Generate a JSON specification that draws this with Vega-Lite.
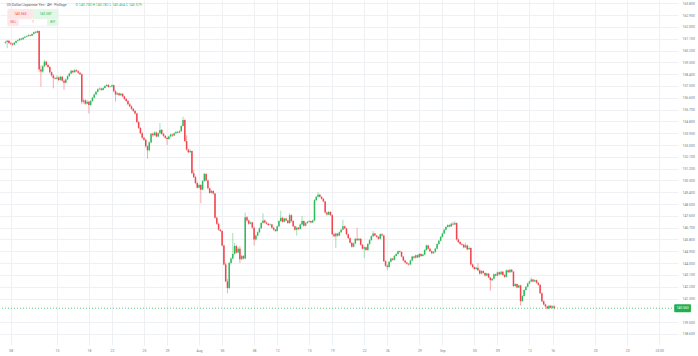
{
"$schema": "https://vega.github.io/schema/vega-lite/v6.json",
"width": 678, "height": 345, "autosize": "none",
"padding": {"left": 0, "top": 0, "right": 20, "bottom": 11},
"background": "white",
"config": {"view": {"stroke": null}, "font": "Roboto"},
"data": {"values": [
{"i":0,"o":160.80,"h":160.95,"l":160.70,"c":160.85},
{"i":1,"o":160.85,"h":161.00,"l":160.38,"c":160.95},
{"i":2,"o":160.95,"h":161.00,"l":160.70,"c":160.78},
{"i":3,"o":160.78,"h":160.85,"l":160.62,"c":160.72},
{"i":4,"o":160.72,"h":160.78,"l":160.55,"c":160.65},
{"i":5,"o":160.65,"h":160.85,"l":160.60,"c":160.80},
{"i":6,"o":160.80,"h":160.98,"l":160.76,"c":160.92},
{"i":7,"o":160.92,"h":161.05,"l":160.88,"c":160.98},
{"i":8,"o":160.98,"h":161.15,"l":160.94,"c":161.10},
{"i":9,"o":161.10,"h":161.16,"l":160.98,"c":161.05},
{"i":10,"o":161.05,"h":161.22,"l":161.00,"c":161.18},
{"i":11,"o":161.18,"h":161.30,"l":161.12,"c":161.25},
{"i":12,"o":161.25,"h":161.36,"l":161.20,"c":161.30},
{"i":13,"o":161.30,"h":161.44,"l":161.26,"c":161.38},
{"i":14,"o":161.38,"h":161.42,"l":161.27,"c":161.33},
{"i":15,"o":161.33,"h":161.50,"l":161.30,"c":161.45},
{"i":16,"o":161.45,"h":161.66,"l":161.42,"c":161.60},
{"i":17,"o":161.60,"h":161.70,"l":161.50,"c":161.55},
{"i":18,"o":161.55,"h":161.76,"l":161.52,"c":161.68},
{"i":19,"o":161.68,"h":161.72,"l":158.55,"c":158.75},
{"i":20,"o":158.75,"h":159.05,"l":157.44,"c":158.60},
{"i":21,"o":158.60,"h":159.10,"l":158.50,"c":159.00},
{"i":22,"o":159.00,"h":159.48,"l":158.92,"c":159.35},
{"i":23,"o":159.35,"h":159.40,"l":159.00,"c":159.10},
{"i":24,"o":159.10,"h":159.20,"l":158.85,"c":158.95},
{"i":25,"o":158.95,"h":159.00,"l":158.45,"c":158.55},
{"i":26,"o":158.55,"h":158.62,"l":158.20,"c":158.30},
{"i":27,"o":158.30,"h":158.40,"l":157.32,"c":158.10},
{"i":28,"o":158.10,"h":158.18,"l":158.00,"c":158.05},
{"i":29,"o":158.05,"h":158.30,"l":157.98,"c":158.15},
{"i":30,"o":158.15,"h":158.22,"l":157.85,"c":157.95},
{"i":31,"o":157.95,"h":158.28,"l":157.90,"c":158.20},
{"i":32,"o":158.20,"h":158.25,"l":157.82,"c":157.90},
{"i":33,"o":157.90,"h":157.98,"l":157.20,"c":157.75},
{"i":34,"o":157.75,"h":158.08,"l":157.70,"c":158.00},
{"i":35,"o":158.00,"h":158.32,"l":157.95,"c":158.25},
{"i":36,"o":158.25,"h":158.52,"l":158.20,"c":158.45},
{"i":37,"o":158.45,"h":158.74,"l":158.40,"c":158.65},
{"i":38,"o":158.65,"h":158.70,"l":158.45,"c":158.55},
{"i":39,"o":158.55,"h":158.80,"l":158.50,"c":158.70},
{"i":40,"o":158.70,"h":158.76,"l":158.55,"c":158.62},
{"i":41,"o":158.62,"h":158.68,"l":158.42,"c":158.50},
{"i":42,"o":158.50,"h":158.58,"l":158.32,"c":158.40},
{"i":43,"o":158.40,"h":158.45,"l":156.10,"c":156.30},
{"i":44,"o":156.30,"h":156.55,"l":156.15,"c":156.40},
{"i":45,"o":156.40,"h":156.48,"l":156.05,"c":156.15},
{"i":46,"o":156.15,"h":156.42,"l":156.10,"c":156.30},
{"i":47,"o":156.30,"h":156.36,"l":155.40,"c":156.05},
{"i":48,"o":156.05,"h":156.42,"l":155.98,"c":156.35},
{"i":49,"o":156.35,"h":156.68,"l":156.30,"c":156.60},
{"i":50,"o":156.60,"h":156.92,"l":156.55,"c":156.85},
{"i":51,"o":156.85,"h":157.12,"l":156.80,"c":157.05},
{"i":52,"o":157.05,"h":157.32,"l":157.00,"c":157.25},
{"i":53,"o":157.25,"h":157.40,"l":157.18,"c":157.30},
{"i":54,"o":157.30,"h":157.36,"l":157.12,"c":157.20},
{"i":55,"o":157.20,"h":157.42,"l":157.15,"c":157.35},
{"i":56,"o":157.35,"h":157.56,"l":157.30,"c":157.50},
{"i":57,"o":157.50,"h":157.66,"l":157.45,"c":157.58},
{"i":58,"o":157.58,"h":157.62,"l":157.36,"c":157.42},
{"i":59,"o":157.42,"h":157.50,"l":157.38,"c":157.45},
{"i":60,"o":157.45,"h":157.62,"l":157.40,"c":157.55},
{"i":61,"o":157.55,"h":157.60,"l":157.02,"c":157.10},
{"i":62,"o":157.10,"h":157.18,"l":156.30,"c":156.85},
{"i":63,"o":156.85,"h":157.02,"l":156.80,"c":156.95},
{"i":64,"o":156.95,"h":157.00,"l":156.72,"c":156.80},
{"i":65,"o":156.80,"h":156.98,"l":156.75,"c":156.90},
{"i":66,"o":156.90,"h":156.95,"l":156.64,"c":156.70},
{"i":67,"o":156.70,"h":156.76,"l":156.44,"c":156.50},
{"i":68,"o":156.50,"h":156.58,"l":156.28,"c":156.35},
{"i":69,"o":156.35,"h":156.42,"l":156.02,"c":156.10},
{"i":70,"o":156.10,"h":156.20,"l":155.88,"c":155.95},
{"i":71,"o":155.95,"h":156.02,"l":155.68,"c":155.75},
{"i":72,"o":155.75,"h":155.82,"l":155.52,"c":155.60},
{"i":73,"o":155.60,"h":155.68,"l":155.32,"c":155.40},
{"i":74,"o":155.40,"h":155.46,"l":154.66,"c":154.75},
{"i":75,"o":154.75,"h":154.85,"l":154.22,"c":154.30},
{"i":76,"o":154.30,"h":154.38,"l":153.82,"c":153.90},
{"i":77,"o":153.90,"h":153.98,"l":153.46,"c":153.55},
{"i":78,"o":153.55,"h":153.62,"l":153.30,"c":153.40},
{"i":79,"o":153.40,"h":153.48,"l":152.80,"c":152.90},
{"i":80,"o":152.90,"h":152.98,"l":151.95,"c":152.60},
{"i":81,"o":152.60,"h":153.28,"l":152.50,"c":153.20},
{"i":82,"o":153.20,"h":153.92,"l":153.12,"c":153.85},
{"i":83,"o":153.85,"h":153.95,"l":153.62,"c":153.75},
{"i":84,"o":153.75,"h":154.05,"l":153.70,"c":153.95},
{"i":85,"o":153.95,"h":154.02,"l":153.58,"c":153.65},
{"i":86,"o":153.65,"h":153.96,"l":153.60,"c":153.90},
{"i":87,"o":153.90,"h":154.67,"l":153.85,"c":154.15},
{"i":88,"o":154.15,"h":154.22,"l":153.78,"c":153.85},
{"i":89,"o":153.85,"h":153.92,"l":153.62,"c":153.70},
{"i":90,"o":153.70,"h":153.75,"l":153.48,"c":153.55},
{"i":91,"o":153.55,"h":153.62,"l":153.00,"c":153.45},
{"i":92,"o":153.45,"h":153.72,"l":153.40,"c":153.65},
{"i":93,"o":153.65,"h":153.88,"l":153.58,"c":153.80},
{"i":94,"o":153.80,"h":153.86,"l":153.62,"c":153.72},
{"i":95,"o":153.72,"h":153.96,"l":153.68,"c":153.90},
{"i":96,"o":153.90,"h":154.08,"l":153.85,"c":154.00},
{"i":97,"o":154.00,"h":154.06,"l":153.88,"c":153.95},
{"i":98,"o":153.95,"h":154.12,"l":153.90,"c":154.05},
{"i":99,"o":154.05,"h":154.52,"l":154.00,"c":154.45},
{"i":100,"o":154.45,"h":155.16,"l":154.40,"c":154.90},
{"i":101,"o":154.90,"h":154.95,"l":153.22,"c":153.30},
{"i":102,"o":153.30,"h":153.75,"l":152.58,"c":152.65},
{"i":103,"o":152.65,"h":152.72,"l":152.38,"c":152.45},
{"i":104,"o":152.45,"h":152.70,"l":152.40,"c":152.55},
{"i":105,"o":152.55,"h":152.60,"l":150.78,"c":150.85},
{"i":106,"o":150.85,"h":151.10,"l":150.48,"c":150.55},
{"i":107,"o":150.55,"h":150.65,"l":150.02,"c":150.10},
{"i":108,"o":150.10,"h":150.22,"l":149.68,"c":149.75},
{"i":109,"o":149.75,"h":150.05,"l":149.70,"c":149.95},
{"i":110,"o":149.95,"h":150.02,"l":148.56,"c":149.60},
{"i":111,"o":149.60,"h":150.32,"l":149.55,"c":150.25},
{"i":112,"o":150.25,"h":150.88,"l":150.20,"c":150.80},
{"i":113,"o":150.80,"h":150.86,"l":150.22,"c":150.30},
{"i":114,"o":150.30,"h":150.36,"l":149.62,"c":149.70},
{"i":115,"o":149.70,"h":149.76,"l":149.28,"c":149.35},
{"i":116,"o":149.35,"h":149.58,"l":149.30,"c":149.50},
{"i":117,"o":149.50,"h":149.55,"l":149.22,"c":149.30},
{"i":118,"o":149.30,"h":149.34,"l":147.38,"c":147.45},
{"i":119,"o":147.45,"h":147.55,"l":146.92,"c":147.00},
{"i":120,"o":147.00,"h":147.08,"l":146.48,"c":146.55},
{"i":121,"o":146.55,"h":146.60,"l":146.38,"c":146.45},
{"i":122,"o":146.45,"h":146.50,"l":145.28,"c":145.35},
{"i":123,"o":145.35,"h":145.42,"l":143.82,"c":143.90},
{"i":124,"o":143.90,"h":144.05,"l":142.55,"c":142.60},
{"i":125,"o":142.60,"h":142.80,"l":141.70,"c":142.10},
{"i":126,"o":142.10,"h":144.10,"l":142.00,"c":144.00},
{"i":127,"o":144.00,"h":144.45,"l":143.90,"c":144.35},
{"i":128,"o":144.35,"h":146.30,"l":144.28,"c":144.70},
{"i":129,"o":144.70,"h":145.55,"l":144.65,"c":145.30},
{"i":130,"o":145.30,"h":145.40,"l":144.72,"c":144.80},
{"i":131,"o":144.80,"h":145.22,"l":144.75,"c":145.10},
{"i":132,"o":145.10,"h":145.30,"l":144.00,"c":144.30},
{"i":133,"o":144.30,"h":144.62,"l":144.22,"c":144.55},
{"i":134,"o":144.55,"h":144.60,"l":144.28,"c":144.35},
{"i":135,"o":144.35,"h":147.85,"l":144.30,"c":147.50},
{"i":136,"o":147.50,"h":147.58,"l":147.15,"c":147.25},
{"i":137,"o":147.25,"h":147.32,"l":146.92,"c":147.00},
{"i":138,"o":147.00,"h":147.18,"l":146.95,"c":147.10},
{"i":139,"o":147.10,"h":147.15,"l":146.62,"c":146.70},
{"i":140,"o":146.70,"h":146.78,"l":145.35,"c":145.80},
{"i":141,"o":145.80,"h":146.18,"l":145.72,"c":146.10},
{"i":142,"o":146.10,"h":146.42,"l":146.05,"c":146.35},
{"i":143,"o":146.35,"h":146.72,"l":146.30,"c":146.65},
{"i":144,"o":146.65,"h":147.12,"l":146.60,"c":147.05},
{"i":145,"o":147.05,"h":147.80,"l":147.00,"c":147.25},
{"i":146,"o":147.25,"h":147.32,"l":147.02,"c":147.10},
{"i":147,"o":147.10,"h":147.16,"l":146.92,"c":147.00},
{"i":148,"o":147.00,"h":147.05,"l":146.84,"c":146.90},
{"i":149,"o":146.90,"h":147.02,"l":146.85,"c":146.95},
{"i":150,"o":146.95,"h":147.00,"l":146.62,"c":146.70},
{"i":151,"o":146.70,"h":146.76,"l":146.48,"c":146.55},
{"i":152,"o":146.55,"h":146.60,"l":146.38,"c":146.45},
{"i":153,"o":146.45,"h":146.86,"l":146.40,"c":146.80},
{"i":154,"o":146.80,"h":147.26,"l":146.75,"c":147.20},
{"i":155,"o":147.20,"h":148.00,"l":147.15,"c":147.45},
{"i":156,"o":147.45,"h":147.52,"l":147.08,"c":147.15},
{"i":157,"o":147.15,"h":147.46,"l":147.10,"c":147.40},
{"i":158,"o":147.40,"h":147.45,"l":147.18,"c":147.25},
{"i":159,"o":147.25,"h":147.30,"l":146.98,"c":147.05},
{"i":160,"o":147.05,"h":147.80,"l":147.00,"c":147.65},
{"i":161,"o":147.65,"h":147.72,"l":147.12,"c":147.20},
{"i":162,"o":147.20,"h":147.26,"l":146.74,"c":146.80},
{"i":163,"o":146.80,"h":146.86,"l":146.48,"c":146.55},
{"i":164,"o":146.55,"h":146.78,"l":146.10,"c":146.70},
{"i":165,"o":146.70,"h":146.76,"l":146.52,"c":146.60},
{"i":166,"o":146.60,"h":147.02,"l":146.55,"c":146.95},
{"i":167,"o":146.95,"h":147.60,"l":146.90,"c":147.20},
{"i":168,"o":147.20,"h":147.26,"l":146.78,"c":146.85},
{"i":169,"o":146.85,"h":147.12,"l":146.80,"c":147.05},
{"i":170,"o":147.05,"h":147.22,"l":147.00,"c":147.15},
{"i":171,"o":147.15,"h":147.28,"l":147.10,"c":147.20},
{"i":172,"o":147.20,"h":147.24,"l":147.02,"c":147.10},
{"i":173,"o":147.10,"h":147.32,"l":147.05,"c":147.25},
{"i":174,"o":147.25,"h":148.88,"l":147.20,"c":148.80},
{"i":175,"o":148.80,"h":149.12,"l":148.72,"c":149.05},
{"i":176,"o":149.05,"h":149.40,"l":149.00,"c":149.20},
{"i":177,"o":149.20,"h":149.28,"l":148.98,"c":149.05},
{"i":178,"o":149.05,"h":149.10,"l":148.84,"c":148.90},
{"i":179,"o":148.90,"h":148.96,"l":148.64,"c":148.70},
{"i":180,"o":148.70,"h":148.75,"l":147.78,"c":147.85},
{"i":181,"o":147.85,"h":147.92,"l":147.62,"c":147.70},
{"i":182,"o":147.70,"h":147.98,"l":147.65,"c":147.90},
{"i":183,"o":147.90,"h":147.95,"l":147.60,"c":147.65},
{"i":184,"o":147.65,"h":147.72,"l":146.12,"c":146.20},
{"i":185,"o":146.20,"h":146.30,"l":145.98,"c":146.05},
{"i":186,"o":146.05,"h":146.32,"l":145.15,"c":146.25},
{"i":187,"o":146.25,"h":146.30,"l":146.02,"c":146.10},
{"i":188,"o":146.10,"h":146.42,"l":146.05,"c":146.35},
{"i":189,"o":146.35,"h":146.62,"l":146.30,"c":146.55},
{"i":190,"o":146.55,"h":147.30,"l":146.50,"c":146.80},
{"i":191,"o":146.80,"h":146.86,"l":146.58,"c":146.65},
{"i":192,"o":146.65,"h":146.70,"l":146.12,"c":146.20},
{"i":193,"o":146.20,"h":146.26,"l":145.84,"c":145.90},
{"i":194,"o":145.90,"h":145.96,"l":145.48,"c":145.55},
{"i":195,"o":145.55,"h":145.62,"l":145.18,"c":145.25},
{"i":196,"o":145.25,"h":145.56,"l":145.20,"c":145.50},
{"i":197,"o":145.50,"h":145.92,"l":145.45,"c":145.85},
{"i":198,"o":145.85,"h":146.70,"l":145.70,"c":145.75},
{"i":199,"o":145.75,"h":145.92,"l":145.70,"c":145.85},
{"i":200,"o":145.85,"h":145.90,"l":145.34,"c":145.40},
{"i":201,"o":145.40,"h":145.46,"l":145.04,"c":145.10},
{"i":202,"o":145.10,"h":145.28,"l":144.40,"c":145.20},
{"i":203,"o":145.20,"h":145.25,"l":144.94,"c":145.00},
{"i":204,"o":145.00,"h":145.52,"l":144.95,"c":145.45},
{"i":205,"o":145.45,"h":145.82,"l":145.40,"c":145.75},
{"i":206,"o":145.75,"h":146.12,"l":145.70,"c":146.05},
{"i":207,"o":146.05,"h":146.45,"l":146.00,"c":146.25},
{"i":208,"o":146.25,"h":146.30,"l":146.04,"c":146.10},
{"i":209,"o":146.10,"h":146.16,"l":145.94,"c":146.00},
{"i":210,"o":146.00,"h":146.06,"l":145.78,"c":145.85},
{"i":211,"o":145.85,"h":146.26,"l":145.80,"c":146.20},
{"i":212,"o":146.20,"h":146.28,"l":146.02,"c":146.10},
{"i":213,"o":146.10,"h":146.16,"l":144.08,"c":144.15},
{"i":214,"o":144.15,"h":144.22,"l":143.72,"c":143.80},
{"i":215,"o":143.80,"h":143.90,"l":143.45,"c":143.70},
{"i":216,"o":143.70,"h":144.16,"l":143.65,"c":144.10},
{"i":217,"o":144.10,"h":144.42,"l":144.05,"c":144.35},
{"i":218,"o":144.35,"h":144.40,"l":144.18,"c":144.25},
{"i":219,"o":144.25,"h":144.62,"l":144.20,"c":144.55},
{"i":220,"o":144.55,"h":144.76,"l":144.50,"c":144.70},
{"i":221,"o":144.70,"h":144.96,"l":144.65,"c":144.90},
{"i":222,"o":144.90,"h":144.95,"l":144.78,"c":144.85},
{"i":223,"o":144.85,"h":144.90,"l":144.44,"c":144.50},
{"i":224,"o":144.50,"h":144.55,"l":144.14,"c":144.20},
{"i":225,"o":144.20,"h":144.26,"l":143.98,"c":144.05},
{"i":226,"o":144.05,"h":144.10,"l":143.88,"c":143.95},
{"i":227,"o":143.95,"h":144.00,"l":143.80,"c":143.90},
{"i":228,"o":143.90,"h":144.26,"l":143.85,"c":144.20},
{"i":229,"o":144.20,"h":144.56,"l":144.15,"c":144.50},
{"i":230,"o":144.50,"h":144.55,"l":144.32,"c":144.40},
{"i":231,"o":144.40,"h":144.66,"l":144.35,"c":144.60},
{"i":232,"o":144.60,"h":144.65,"l":144.38,"c":144.45},
{"i":233,"o":144.45,"h":144.76,"l":144.40,"c":144.70},
{"i":234,"o":144.70,"h":144.75,"l":144.48,"c":144.55},
{"i":235,"o":144.55,"h":144.72,"l":144.50,"c":144.65},
{"i":236,"o":144.65,"h":145.06,"l":144.60,"c":145.00},
{"i":237,"o":145.00,"h":145.42,"l":144.95,"c":145.35},
{"i":238,"o":145.35,"h":145.40,"l":145.04,"c":145.10},
{"i":239,"o":145.10,"h":145.15,"l":144.84,"c":144.90},
{"i":240,"o":144.90,"h":144.96,"l":144.68,"c":144.75},
{"i":241,"o":144.75,"h":144.92,"l":144.70,"c":144.85},
{"i":242,"o":144.85,"h":145.16,"l":144.80,"c":145.10},
{"i":243,"o":145.10,"h":145.52,"l":145.05,"c":145.45},
{"i":244,"o":145.45,"h":145.76,"l":145.40,"c":145.70},
{"i":245,"o":145.70,"h":146.06,"l":145.65,"c":146.00},
{"i":246,"o":146.00,"h":146.32,"l":145.95,"c":146.25},
{"i":247,"o":146.25,"h":146.62,"l":146.20,"c":146.55},
{"i":248,"o":146.55,"h":146.82,"l":146.50,"c":146.75},
{"i":249,"o":146.75,"h":146.96,"l":146.70,"c":146.90},
{"i":250,"o":146.90,"h":146.95,"l":146.72,"c":146.80},
{"i":251,"o":146.80,"h":147.08,"l":146.75,"c":147.00},
{"i":252,"o":147.00,"h":147.15,"l":146.88,"c":146.95},
{"i":253,"o":146.95,"h":147.20,"l":146.90,"c":147.05},
{"i":254,"o":147.05,"h":147.10,"l":145.72,"c":145.80},
{"i":255,"o":145.80,"h":145.88,"l":145.52,"c":145.60},
{"i":256,"o":145.60,"h":145.66,"l":145.38,"c":145.45},
{"i":257,"o":145.45,"h":145.52,"l":145.32,"c":145.40},
{"i":258,"o":145.40,"h":145.46,"l":145.12,"c":145.20},
{"i":259,"o":145.20,"h":145.55,"l":145.15,"c":145.35},
{"i":260,"o":145.35,"h":145.40,"l":144.98,"c":145.05},
{"i":261,"o":145.05,"h":145.30,"l":145.00,"c":145.15},
{"i":262,"o":145.15,"h":145.20,"l":143.82,"c":143.90},
{"i":263,"o":143.90,"h":143.96,"l":143.62,"c":143.70},
{"i":264,"o":143.70,"h":143.76,"l":143.48,"c":143.55},
{"i":265,"o":143.55,"h":143.72,"l":143.50,"c":143.65},
{"i":266,"o":143.65,"h":144.00,"l":143.38,"c":143.45},
{"i":267,"o":143.45,"h":143.52,"l":143.12,"c":143.20},
{"i":268,"o":143.20,"h":143.46,"l":143.15,"c":143.40},
{"i":269,"o":143.40,"h":143.45,"l":143.18,"c":143.25},
{"i":270,"o":143.25,"h":143.30,"l":142.98,"c":143.05},
{"i":271,"o":143.05,"h":143.26,"l":143.00,"c":143.20},
{"i":272,"o":143.20,"h":143.25,"l":142.84,"c":142.90},
{"i":273,"o":142.90,"h":142.95,"l":141.90,"c":142.70},
{"i":274,"o":142.70,"h":142.86,"l":142.62,"c":142.80},
{"i":275,"o":142.80,"h":143.22,"l":142.75,"c":143.15},
{"i":276,"o":143.15,"h":143.20,"l":142.98,"c":143.05},
{"i":277,"o":143.05,"h":143.36,"l":143.00,"c":143.30},
{"i":278,"o":143.30,"h":143.35,"l":143.08,"c":143.15},
{"i":279,"o":143.15,"h":143.42,"l":143.10,"c":143.35},
{"i":280,"o":143.35,"h":143.40,"l":143.04,"c":143.10},
{"i":281,"o":143.10,"h":143.15,"l":142.88,"c":142.95},
{"i":282,"o":142.95,"h":143.52,"l":142.90,"c":143.45},
{"i":283,"o":143.45,"h":143.50,"l":143.24,"c":143.30},
{"i":284,"o":143.30,"h":143.56,"l":143.25,"c":143.50},
{"i":285,"o":143.50,"h":143.55,"l":143.28,"c":143.35},
{"i":286,"o":143.35,"h":143.40,"l":142.18,"c":142.25},
{"i":287,"o":142.25,"h":142.46,"l":142.20,"c":142.40},
{"i":288,"o":142.40,"h":142.45,"l":142.08,"c":142.15},
{"i":289,"o":142.15,"h":142.36,"l":142.10,"c":142.30},
{"i":290,"o":142.30,"h":142.35,"l":140.75,"c":141.10},
{"i":291,"o":141.10,"h":141.56,"l":141.05,"c":141.50},
{"i":292,"o":141.50,"h":142.02,"l":141.45,"c":141.95},
{"i":293,"o":141.95,"h":142.26,"l":141.90,"c":142.20},
{"i":294,"o":142.20,"h":142.52,"l":142.15,"c":142.45},
{"i":295,"o":142.45,"h":142.66,"l":142.40,"c":142.60},
{"i":296,"o":142.60,"h":142.90,"l":142.55,"c":142.75},
{"i":297,"o":142.75,"h":142.80,"l":142.54,"c":142.60},
{"i":298,"o":142.60,"h":142.76,"l":142.55,"c":142.70},
{"i":299,"o":142.70,"h":142.75,"l":142.44,"c":142.50},
{"i":300,"o":142.50,"h":142.55,"l":142.28,"c":142.35},
{"i":301,"o":142.35,"h":142.40,"l":141.64,"c":141.70},
{"i":302,"o":141.70,"h":141.76,"l":141.02,"c":141.10},
{"i":303,"o":141.10,"h":141.16,"l":140.78,"c":140.85},
{"i":304,"o":140.85,"h":140.92,"l":140.62,"c":140.70},
{"i":305,"o":140.70,"h":140.76,"l":140.48,"c":140.55},
{"i":306,"o":140.55,"h":140.82,"l":140.50,"c":140.75},
{"i":307,"o":140.75,"h":140.80,"l":140.55,"c":140.60},
{"i":308,"o":140.60,"h":140.78,"l":140.52,"c":140.70},
{"i":309,"o":140.70,"h":140.78,"l":140.46,"c":140.58}
]},
"layer": [
{"mark": {"type": "rule", "strokeWidth": 1, "opacity": 0.45},
 "encoding": {
  "x": {"field": "i", "type": "quantitative", "scale": {"domain": [-0.22, 375.8], "nice": false, "zero": false},
   "axis": {"orient": "bottom", "title": null, "tickCount": 100, "values": [3,29,47,60,78,91,109,122,140,153,171,184,202,215,233,246,264,277,295,308,332,350,368],
    "labelExpr": "['08','15','18','22','25','29','Aug','05','08','12','15','19','22','26','29','Sep','05','09','12','16','20','23','23:00'][indexof([3,29,47,60,78,91,109,122,140,153,171,184,202,215,233,246,264,277,295,308,332,350,368], datum.value)]",
    "grid": true, "gridColor": "#eef0f3", "gridWidth": 1, "ticks": false, "domain": false, "labelFontSize": 3.4, "labelColor": "#787b86", "labelPadding": 3, "labelFlush": false, "labelOverlap": false}},
  "y": {"field": "l", "type": "quantitative", "scale": {"domain": [137.76, 164.05], "nice": false, "zero": false},
   "axis": {"orient": "right", "title": null, "tickCount": 100, "values": [138.6,139.5,141.3,142.2,143.1,144.0,144.9,145.8,146.7,147.6,148.5,149.4,150.3,151.2,152.1,153.0,153.9,154.8,155.7,156.6,157.5,158.4,159.3,160.2,161.1,162.0,162.9,163.8],
    "format": ".3f", "grid": true, "gridColor": "#eef0f3", "gridWidth": 1, "ticks": false, "domain": false, "labelFontSize": 3.4, "labelColor": "#787b86", "labelPadding": 4, "labelOverlap": false, "labelFlush": false}},
  "y2": {"field": "h"},
  "color": {"condition": {"test": "datum.c >= datum.o", "value": "#2dba5a"}, "value": "#f2444d"}
 }},
{"mark": {"type": "bar", "width": 1.5},
 "encoding": {
  "x": {"field": "i", "type": "quantitative"},
  "y": {"field": "o", "type": "quantitative"},
  "y2": {"field": "c"},
  "color": {"condition": {"test": "datum.c >= datum.o", "value": "#2dba5a"}, "value": "#f2444d"}
 }},
{"data": {"values": [{}]},
 "mark": {"type": "rule", "color": "#2dba5a", "strokeDash": [1, 2], "strokeWidth": 1, "opacity": 0.8},
 "encoding": {"y": {"datum": 140.563, "type": "quantitative"}}},
{"data": {"values": [{}]},
 "mark": {"type": "rect", "color": "#22b04f", "cornerRadius": 1},
 "encoding": {"x": {"datum": 376.5, "type": "quantitative"}, "x2": {"datum": 385.9}, "y": {"datum": 140.86, "type": "quantitative"}, "y2": {"datum": 140.26}}},
{"data": {"values": [{}]},
 "mark": {"type": "text", "text": "140.563", "color": "white", "fontSize": 3.4, "align": "center", "baseline": "middle"},
 "encoding": {"x": {"datum": 381.2, "type": "quantitative"}, "y": {"datum": 140.563, "type": "quantitative"}}},
{"data": {"values": [{}]},
 "mark": {"type": "text", "text": "US Dollar/Japanese Yen · 4H · Pinllage", "color": "#555a66", "fontSize": 3.5, "align": "left", "baseline": "middle"},
 "encoding": {"x": {"datum": 0.8, "type": "quantitative"}, "y": {"datum": 163.67, "type": "quantitative"}}},
{"data": {"values": [{}]},
 "mark": {"type": "text", "text": "O 140.700  H 140.782  L 140.464  C 140.579", "color": "#2dba5a", "fontSize": 3.5, "align": "left", "baseline": "middle"},
 "encoding": {"x": {"datum": 39.5, "type": "quantitative"}, "y": {"datum": 163.67, "type": "quantitative"}}},
{"data": {"values": [{}]},
 "mark": {"type": "rect", "fill": "white", "stroke": "#e3e6ec", "strokeWidth": 0.5, "cornerRadius": 1},
 "encoding": {"x": {"datum": 1.28, "type": "quantitative"}, "x2": {"datum": 29.73}, "y": {"datum": 163.34, "type": "quantitative"}, "y2": {"datum": 162.07}}},
{"data": {"values": [{}]},
 "mark": {"type": "rect", "fill": "#fde6e7", "cornerRadius": 1},
 "encoding": {"x": {"datum": 1.28, "type": "quantitative"}, "x2": {"datum": 15.47}, "y": {"datum": 163.34, "type": "quantitative"}, "y2": {"datum": 162.58}}},
{"data": {"values": [{}]},
 "mark": {"type": "rect", "fill": "#e2f7e7", "cornerRadius": 1},
 "encoding": {"x": {"datum": 15.47, "type": "quantitative"}, "x2": {"datum": 29.73}, "y": {"datum": 163.34, "type": "quantitative"}, "y2": {"datum": 162.58}}},
{"data": {"values": [{}]},
 "mark": {"type": "rect", "fill": "#fde6e7", "cornerRadius": 1},
 "encoding": {"x": {"datum": 1.28, "type": "quantitative"}, "x2": {"datum": 7.54}, "y": {"datum": 162.56, "type": "quantitative"}, "y2": {"datum": 162.09}}},
{"data": {"values": [{}]},
 "mark": {"type": "rect", "fill": "#e2f7e7", "cornerRadius": 1},
 "encoding": {"x": {"datum": 23.46, "type": "quantitative"}, "x2": {"datum": 29.73}, "y": {"datum": 162.56, "type": "quantitative"}, "y2": {"datum": 162.09}}},
{"data": {"values": [{}]},
 "mark": {"type": "text", "text": "140.563", "color": "#f2444d", "fontSize": 3.4, "align": "center", "baseline": "middle"},
 "encoding": {"x": {"datum": 8.4, "type": "quantitative"}, "y": {"datum": 162.96, "type": "quantitative"}}},
{"data": {"values": [{}]},
 "mark": {"type": "text", "text": "140.587", "color": "#2dba5a", "fontSize": 3.4, "align": "center", "baseline": "middle"},
 "encoding": {"x": {"datum": 22.6, "type": "quantitative"}, "y": {"datum": 162.96, "type": "quantitative"}}},
{"data": {"values": [{}]},
 "mark": {"type": "text", "text": "SELL", "color": "#f2444d", "fontSize": 2.6, "align": "center", "baseline": "middle"},
 "encoding": {"x": {"datum": 4.4, "type": "quantitative"}, "y": {"datum": 162.32, "type": "quantitative"}}},
{"data": {"values": [{}]},
 "mark": {"type": "text", "text": "1", "color": "#555a66", "fontSize": 2.6, "align": "center", "baseline": "middle"},
 "encoding": {"x": {"datum": 15.5, "type": "quantitative"}, "y": {"datum": 162.32, "type": "quantitative"}}},
{"data": {"values": [{}]},
 "mark": {"type": "text", "text": "BUY", "color": "#2dba5a", "fontSize": 2.6, "align": "center", "baseline": "middle"},
 "encoding": {"x": {"datum": 26.6, "type": "quantitative"}, "y": {"datum": 162.32, "type": "quantitative"}}}
]
}
